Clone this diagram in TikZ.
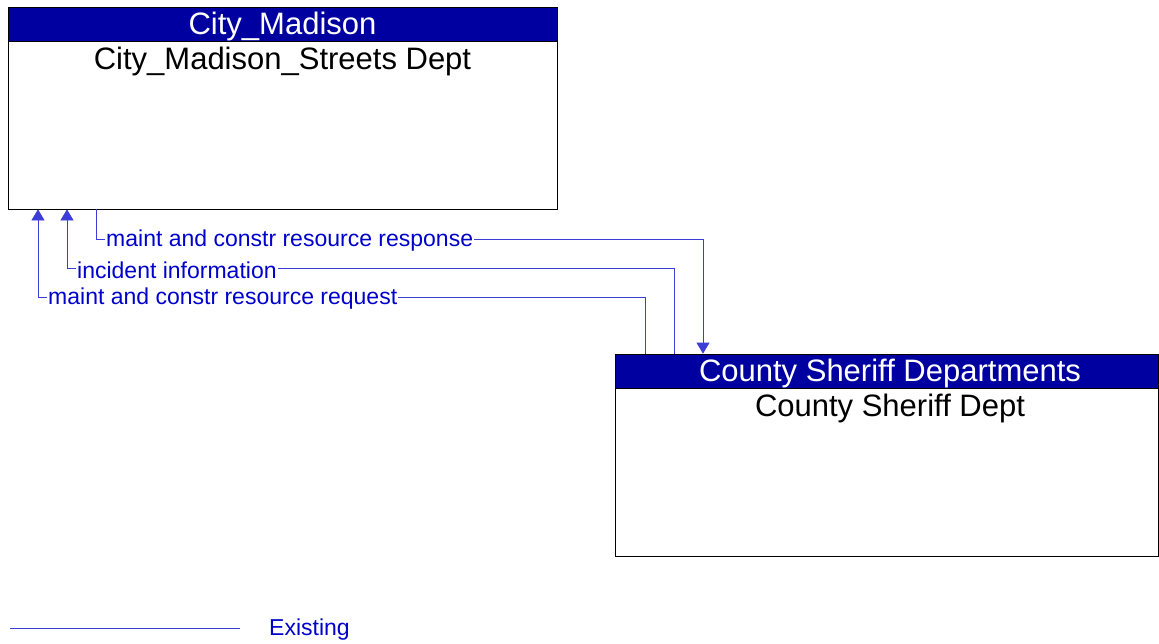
\documentclass[tikz,border=0pt]{standalone}
\usepackage{fontspec}
\setmainfont{Liberation Sans}
\usetikzlibrary{arrows.meta}
\definecolor{hdrblue}{RGB}{0,0,160}
\definecolor{flowblue}{RGB}{0,0,204}
\definecolor{lineblue}{RGB}{60,60,215}
\tikzset{
  box/.style={draw=black, line width=0.8pt, rectangle, minimum height=202pt, inner sep=0pt},
  hdr/.style={draw=black, line width=0.8pt, fill=hdrblue, rectangle, minimum height=34pt, inner sep=0pt},
  hdrtext/.style={text=white, inner sep=0pt, font=\fontsize{31}{35}\selectfont},
  body/.style={text=black, inner sep=0pt, font=\fontsize{31}{35}\selectfont},
  flow/.style={draw=lineblue, line width=0.8pt},
  flowarrow/.style={flow, -{Triangle[width=13pt,length=11pt]}},
  flowlabel/.style={text=flowblue, fill=white, inner xsep=1pt, inner ysep=0pt, anchor=west, font=\fontsize{23}{26}\selectfont}
}
\begin{document}
\begin{tikzpicture}[x=1pt,y=-1pt]
\useasboundingbox (0,0) rectangle (1159,643);
% boxes
\node[box, minimum width=549pt] (city) at (282.5,108) {};
\node[hdr, minimum width=549pt] (cityhdr) at (282.5,24) {};
\node[hdrtext] (cityhdrtext) at (282.5,26) {City\_Madison};
\node[body] (citybody) at (282.5,61) {City\_Madison\_Streets Dept};
\node[box, minimum width=543.5pt] (county) at (886.75,455) {};
\node[hdr, minimum width=543.5pt] (countyhdr) at (886.75,371) {};
\node[hdrtext] (countyhdrtext) at (890,373) {County Sheriff Departments};
\node[body] (countybody) at (890,408) {County Sheriff Dept};
% connectors
\draw[flowarrow] (city.south -| 96,0) |- (703,239) -- (countyhdr.north -| 703,0);
\draw[flowarrow] (countyhdr.north -| 674,0) |- (67,268) -- (city.south -| 67,0);
\draw[flowarrow] (countyhdr.north -| 645,0) |- (38,297) -- (city.south -| 38,0);
% labels
\node[flowlabel] (l1) at (105,241) {maint and constr resource response};
\node[flowlabel] (l2) at (76,270) {incident information};
\node[flowlabel] (l3) at (47,299) {maint and constr resource request};
% legend
\coordinate (lega) at (10,628);
\coordinate (legb) at (240,628);
\draw[flow] (lega) -- (legb);
\node[flowlabel] (legt) at (268,630) {Existing};
\end{tikzpicture}
\end{document}
